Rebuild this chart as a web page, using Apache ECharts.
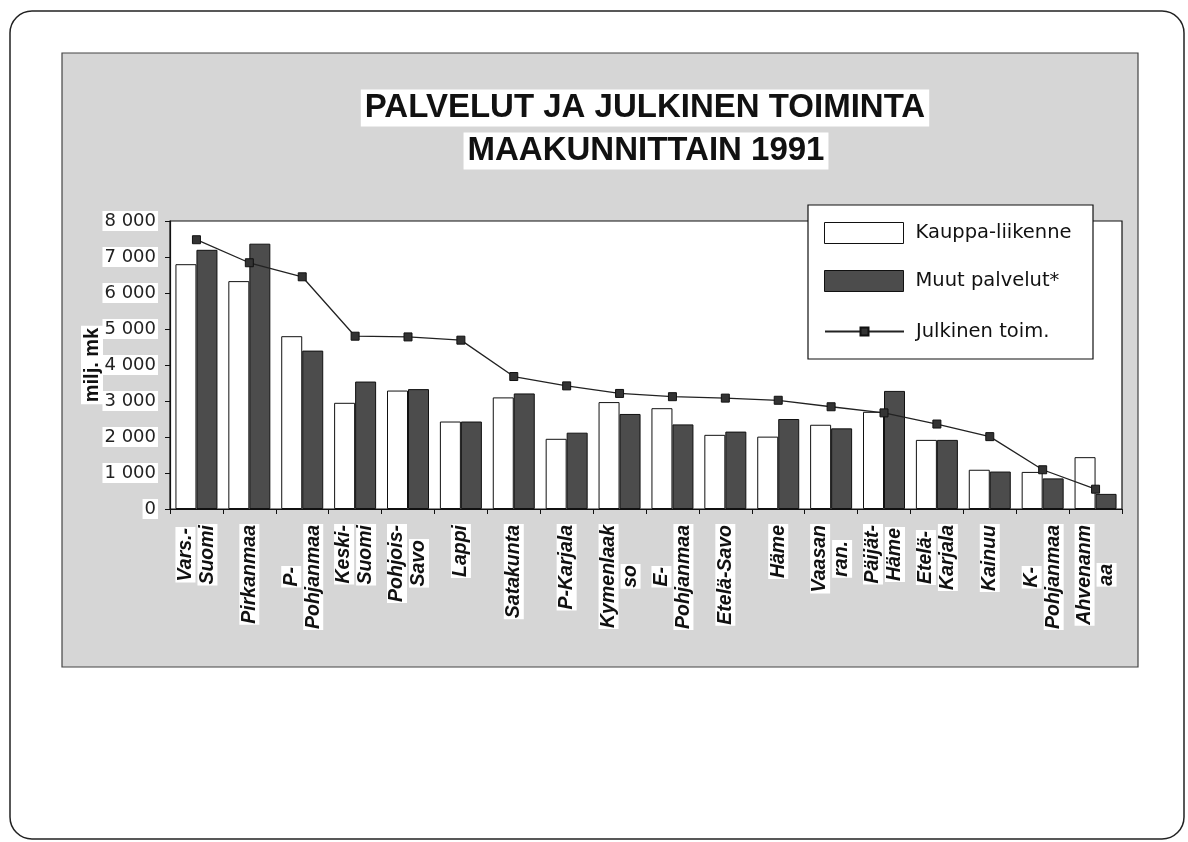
<!DOCTYPE html>
<html>
<head>
<meta charset="utf-8">
<script src="https://cdn.jsdelivr.net/npm/echarts@6/dist/echarts.min.js"></script>
<style>
html,body{margin:0;padding:0;background:#fff;}
#chart{width:1188px;height:842px;}
</style>
</head>
<body>
<div id="chart"></div>
<script>
// ---- data ----
const categories = ['Vars.-\nSuomi','Pirkanmaa','P-\nPohjanmaa','Keski-\nSuomi','Pohjois-\nSavo','Lappi','Satakunta','P-Karjala','Kymenlaak\nso','E-\nPohjanmaa','Etelä-Savo','Häme','Vaasan\nran.','Päijät-\nHäme','Etelä-\nKarjala','Kainuu','K-\nPohjanmaa','Ahvenanm\naa'];
const kauppaLiikenne = [6800,6330,4800,2950,3290,2430,3100,1950,2970,2800,2060,2010,2340,2700,1920,1090,1030,1440];
const muutPalvelut = [7200,7370,4400,3540,3330,2430,3210,2120,2640,2350,2150,2500,2240,3280,1920,1040,850,420];
const julkinenToim = [7480,6840,6450,4800,4780,4690,3680,3420,3210,3120,3080,3020,2840,2670,2360,2010,1090,550];
const seriesNames = ['Kauppa-liikenne','Muut palvelut*','Julkinen toim.'];
const titleLines = ['PALVELUT JA JULKINEN TOIMINTA','MAAKUNNITTAIN 1991'];
const yAxisName = 'milj. mk';

// ---- label line centering (rich text) ----
const xFont = 'italic bold 19.5px "Liberation Sans", Arial, sans-serif';
const meas = document.createElement('canvas').getContext('2d');
meas.font = xFont;
const rich = {
  t: {fontFamily:'"Liberation Sans", Arial, sans-serif', fontStyle:'italic', fontWeight:'bold', fontSize:19.5, color:'#111', backgroundColor:'#fff', lineHeight:22, padding:[0,1]}
};
function padName(w){
  const k = Math.max(0, Math.round(w));
  const n = 's' + k;
  if (!rich[n]) rich[n] = {width:k, fontSize:19.5, lineHeight:22};
  return n;
}
const xLabelStrings = categories.map(c => {
  const lines = c.split('\n');
  const widths = lines.map(l => meas.measureText(l).width);
  const maxW = Math.max.apply(null, widths);
  return lines.map((l,i) => {
    const p = (maxW - widths[i]) / 2;
    if (p < 1) return '{t|' + l + '}';
    const n = padName(p);
    return '{' + n + '| }{t|' + l + '}{' + n + '| }';
  }).join('\n');
});

const chart = echarts.init(document.getElementById('chart'));
const option = {
  backgroundColor:'#fff',
  animation:false,
  graphic:[
    {type:'rect', z:-20, shape:{x:10, y:11, width:1174, height:828, r:22}, style:{fill:'#fff', stroke:'#222', lineWidth:1.5}},
    {type:'rect', z:-10, shape:{x:62, y:53, width:1076, height:614}, style:{fill:'#d6d6d6', stroke:'#444', lineWidth:1.2}},
    {type:'text', z:5, style:{text:titleLines[0], x:645, y:108, align:'center', verticalAlign:'middle', font:'bold 33px "Liberation Sans", Arial, sans-serif', fill:'#111', backgroundColor:'#fff', padding:[3,4,1,4]}},
    {type:'text', z:5, style:{text:titleLines[1], x:646, y:151, align:'center', verticalAlign:'middle', font:'bold 33px "Liberation Sans", Arial, sans-serif', fill:'#111', backgroundColor:'#fff', padding:[3,4,1,4]}},
    {type:'text', z:5, x:92, y:365, rotation:Math.PI/2, style:{text:yAxisName, x:0, y:0, align:'center', verticalAlign:'middle', font:'bold 20px "Liberation Sans", Arial, sans-serif', fill:'#111', backgroundColor:'#fff', padding:[1,2]}},
    {type:'rect', z:50, shape:{x:808, y:205, width:285, height:154}, style:{fill:'#fff', stroke:'#111', lineWidth:1.2}}
  ],
  legend:[
    {
      z:60, left:824, top:222, orient:'vertical', padding:0,
      data:[seriesNames[0], seriesNames[1]],
      itemWidth:79, itemHeight:21, itemGap:26, icon:'rect',
      itemStyle:{borderColor:'#111', borderWidth:1},
      textStyle:{fontFamily:'"DejaVu Sans", sans-serif', fontSize:19.5, color:'#111', padding:[0,0,0,7]},
      selectedMode:false
    },
    {
      z:60, left:824, top:321.5, orient:'vertical', padding:0,
      data:[seriesNames[2]],
      itemWidth:79, itemHeight:10,
      textStyle:{fontFamily:'"DejaVu Sans", sans-serif', fontSize:19.5, color:'#111', padding:[0,0,0,7]},
      selectedMode:false
    }
  ],
  grid:{left:170, right:66, top:221, bottom:333, show:true, backgroundColor:'#fff', borderColor:'#111', borderWidth:1.2},
  xAxis:{
    type:'category',
    data:categories,
    axisLine:{lineStyle:{color:'#111', width:1.2}},
    axisTick:{show:true, inside:false, length:5, lineStyle:{color:'#111'}},
    axisLabel:{
      rotate:90, interval:0, margin:15,
      formatter:(v, i) => xLabelStrings[i],
      rich:rich
    }
  },
  yAxis:{
    type:'value', min:0, max:8000, interval:1000,
    axisLine:{show:true, lineStyle:{color:'#111', width:1.2}},
    axisTick:{show:true, length:5, lineStyle:{color:'#111'}},
    splitLine:{show:false},
    axisLabel:{
      margin:12,
      fontFamily:'"DejaVu Sans", sans-serif', fontSize:18, color:'#222',
      backgroundColor:'#fff', padding:[1,2],
      formatter:v => String(v).replace(/\B(?=(\d{3})+(?!\d))/g, ' ')
    }
  },
  series:[
    {
      name:seriesNames[0], type:'bar', data:kauppaLiikenne,
      barWidth:21, barGap:'0%',
      itemStyle:{color:'#fff', borderColor:'#111', borderWidth:1}
    },
    {
      name:seriesNames[1], type:'bar', data:muutPalvelut,
      barWidth:21, barGap:'0%',
      itemStyle:{color:'#4c4c4c', borderColor:'#111', borderWidth:1}
    },
    {
      name:seriesNames[2], type:'line', data:julkinenToim, z:5,
      symbol:'rect', symbolSize:8,
      lineStyle:{color:'#222', width:1.3},
      itemStyle:{color:'#333', borderColor:'#111', borderWidth:1}
    }
  ]
};
chart.setOption(option);
</script>
</body>
</html>
